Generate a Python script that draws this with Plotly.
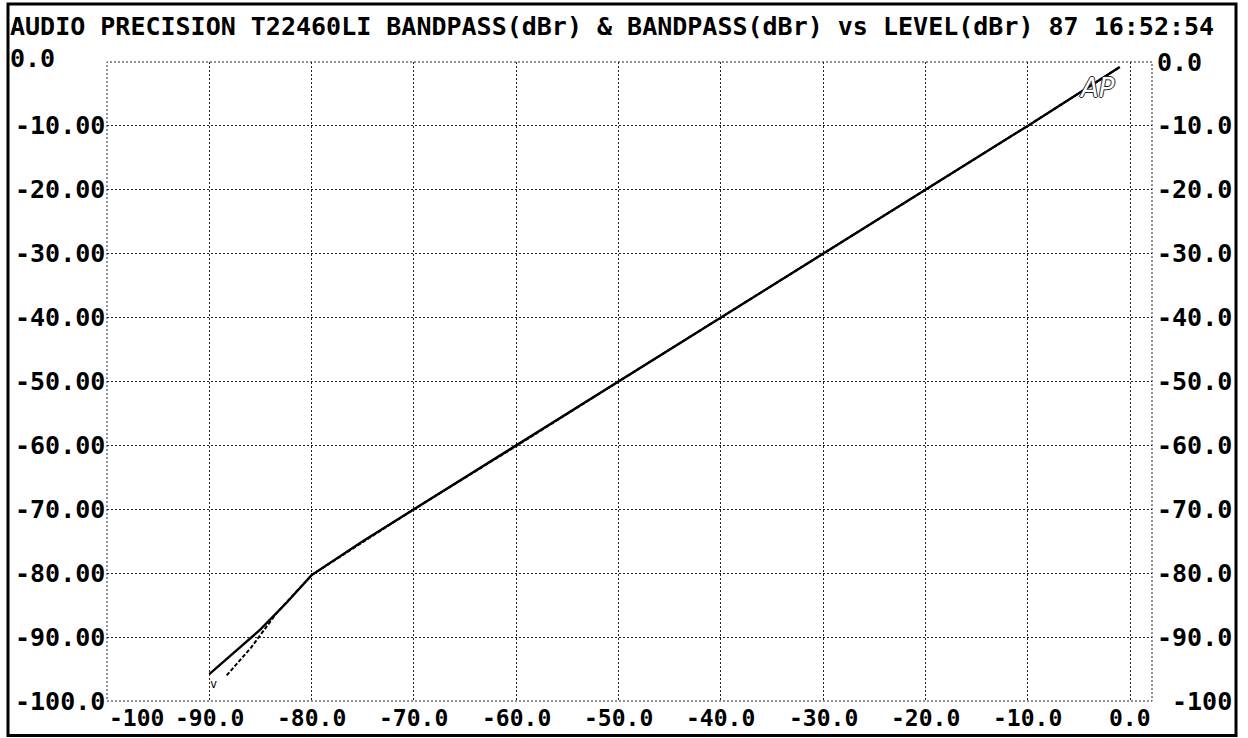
import plotly.graph_objects as go

# ---------------- data ----------------
title_text = "AUDIO PRECISION T22460LI BANDPASS(dBr) & BANDPASS(dBr) vs LEVEL(dBr) 87 16:52:54"

level_a = [-90.0, -87.5, -85.0, -82.5, -80.0, -75.0, -70.0, -65.0, -60.0, -55.0, -50.0,
           -45.0, -40.0, -35.0, -30.0, -25.0, -20.0, -15.0, -10.0, -5.0, -1.0]
bandpass_a = [-95.8, -92.3, -88.8, -84.7, -80.3, -75.0, -70.0, -65.1, -60.1, -55.0, -50.0,
              -45.0, -40.0, -35.0, -30.0, -25.0, -20.0, -15.0, -10.0, -4.9, -0.8]

level_b = [-88.3, -85.9, -83.4, -80.0, -70.0, -60.0, -50.0, -40.0, -30.0, -20.0, -10.0, -1.0]
bandpass_b = [-96.0, -91.6, -86.2, -80.3, -70.0, -60.1, -50.0, -40.0, -30.0, -20.0, -10.0, -0.8]

x_ticks = [-100, -90, -80, -70, -60, -50, -40, -30, -20, -10, 0]
x_tick_text = ["-100", "-90.0", "-80.0", "-70.0", "-60.0", "-50.0", "-40.0", "-30.0", "-20.0", "-10.0", "0.0"]
y_ticks = [0, -10, -20, -30, -40, -50, -60, -70, -80, -90, -100]
y_left_text = ["0.0", "-10.00", "-20.00", "-30.00", "-40.00", "-50.00", "-60.00", "-70.00", "-80.00", "-90.00", "-100.0"]
y_right_text = ["0.0", "-10.0", "-20.0", "-30.0", "-40.0", "-50.0", "-60.0", "-70.0", "-80.0", "-90.0", "-100"]

start_mark = (-89.6, -97.3)
logo_pos = (-3.2, -4.0)

# ---------------- layout constants ----------------
W, H = 1248, 738
L, R, T, B = 107, 1152, 62, 701
pw, ph = R - L, B - T

def px_x(p):
    return (p - L) / pw

def px_y(p):
    return (B - p) / ph

FONT = "DejaVu Sans Mono"

fig = go.Figure()
fig.add_trace(go.Scatter(x=level_b, y=bandpass_b, mode="lines",
                         line=dict(color="black", width=2, dash="4px,2px"),
                         showlegend=False, hoverinfo="skip"))
fig.add_trace(go.Scatter(x=level_a, y=bandpass_a, mode="lines",
                         line=dict(color="black", width=2.4),
                         showlegend=False, hoverinfo="skip"))

ann = []
for v, t in zip(y_ticks, y_left_text):
    if v == 0:
        ann.append(dict(x=0, xref="paper", y=v, yref="y", text=t, showarrow=False,
                        xanchor="left", yanchor="middle", xshift=-99, yshift=4,
                        font=dict(family=FONT, size=25, color="black", weight="bold")))
    else:
        ann.append(dict(x=0, xref="paper", y=v, yref="y", text=t, showarrow=False,
                        xanchor="right", yanchor="middle", xshift=0,
                        font=dict(family=FONT, size=25, color="black", weight="bold")))
for v, t in zip(y_ticks, y_right_text):
    if v == -100:
        ann.append(dict(x=1, xref="paper", y=v, yref="y", text=t, showarrow=False,
                        xanchor="right", yanchor="middle", xshift=82,
                        font=dict(family=FONT, size=25, color="black", weight="bold")))
    else:
        ann.append(dict(x=1, xref="paper", y=v, yref="y", text=t, showarrow=False,
                        xanchor="left", yanchor="middle", xshift=3,
                        font=dict(family=FONT, size=25, color="black", weight="bold")))
for v, t in zip(x_ticks, x_tick_text):
    ann.append(dict(x=v, xref="x", y=0, yref="paper", text=t, showarrow=False,
                    xanchor="left" if v == -100 else "center", yanchor="top", yshift=-2,
                    font=dict(family=FONT, size=23, color="black", weight="bold")))

ann.append(dict(x=start_mark[0], y=start_mark[1], xref="x", yref="y", text="v",
                showarrow=False, font=dict(family=FONT, size=12, color="black")))
ann.append(dict(x=logo_pos[0], y=logo_pos[1], xref="x", yref="y", text="<i>AP</i>",
                showarrow=False,
                font=dict(family="DejaVu Sans", size=26, color="white",
                          shadow="1px 0 0 #222, -1px 0 0 #222, 0 1px 0 #222, 0 -1px 0 #222")))

shapes = [
    dict(type="rect", xref="paper", yref="paper", x0=0, x1=1, y0=0, y1=1,
         line=dict(color="#222", width=1, dash="2px,2px"), layer="below"),
    dict(type="rect", xref="paper", yref="paper",
         x0=px_x(8), x1=px_x(1236), y0=px_y(735.5), y1=px_y(4),
         line=dict(color="black", width=3)),
]

fig.update_layout(
    width=W, height=H,
    margin=dict(l=L, r=W - R, t=T, b=H - B, pad=0),
    paper_bgcolor="white", plot_bgcolor="white",
    title=dict(text=title_text, x=10 / W, xanchor="left", xref="container",
               y=1 - 26 / H, yanchor="middle", yref="container",
               font=dict(family=FONT, size=25, color="black", weight="bold")),
    xaxis=dict(range=[-100, 2.15], tickvals=x_ticks, showticklabels=False,
               showgrid=True, gridcolor="#222", gridwidth=1, griddash="2px,2px",
               zeroline=False, showline=False, ticks=""),
    yaxis=dict(range=[-100, 0], tickvals=y_ticks, showticklabels=False,
               showgrid=True, gridcolor="#222", gridwidth=1, griddash="2px,2px",
               zeroline=False, showline=False, ticks=""),
    annotations=ann,
    shapes=shapes,
)

fig.write_html("out.html", config={"displayModeBar": False},
               post_script="document.body.style.margin='0px';document.body.style.overflow='hidden';")
